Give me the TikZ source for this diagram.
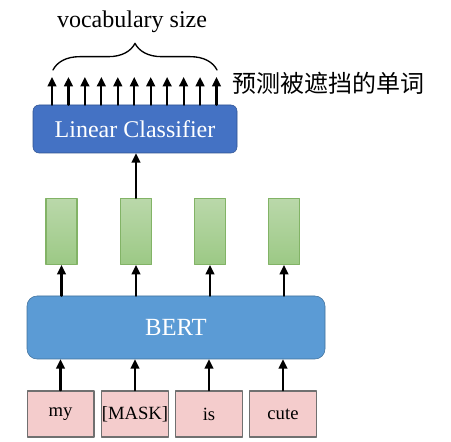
\documentclass[tikz,border=0pt]{standalone}
\usepackage{fontspec}
\setmainfont{Liberation Serif}
\newfontfamily\tnr{Liberation Serif}
\newfontfamily\cjk{Noto Sans CJK SC}
\usetikzlibrary{arrows.meta,decorations.pathreplacing}
\definecolor{clsblue}{HTML}{4472C4}
\definecolor{clsedge}{HTML}{2F528F}
\definecolor{bertblue}{HTML}{5B9BD5}
\definecolor{bertedge}{HTML}{41719C}
\definecolor{vectop}{HTML}{BAD8AA}
\definecolor{vecbot}{HTML}{9CC985}
\definecolor{vecedge}{HTML}{82B366}
\definecolor{tokfill}{HTML}{F4CCCC}
\definecolor{tokedge}{HTML}{707070}
\tikzset{
    vecbox/.style={draw=vecedge, line width=0.8pt, top color=vectop, bottom color=vecbot,
        minimum width=23.25pt, minimum height=49.5pt, inner sep=0pt},
    tokbox/.style={draw=tokedge, fill=tokfill, line width=1pt, minimum width=50pt,
        minimum height=34.5pt, inner sep=0pt, font=\tnr\fontsize{14}{16}\selectfont},
    upar/.style={-{Triangle[length=7pt,width=6.5pt]}, line width=1.6pt}
}
\begin{document}
\begin{tikzpicture}[line cap=round, line join=round, x=0.75pt, y=-0.75pt]
                \useasboundingbox (0,0) rectangle (451,442);
                \node[draw=clsedge, fill=clsblue, rounded corners=4.5pt, minimum width=153pt, minimum height=36pt,
                    text=white, font=\tnr\fontsize{18}{20}\selectfont] (cls) at (135,129) {Linear Classifier};
                \node[draw=bertedge, fill=bertblue, rounded corners=7.5pt, minimum width=223.5pt, minimum height=47.25pt,
                    text=white, font=\tnr\fontsize{18.5}{20}\selectfont] (bert) at (176,327.5) {BERT};
                \foreach \name/\x/\word in {my/60.5/my, mask/135/{[MASK]}, is/209/is, cute/283/cute} {
                    \node[tokbox] (tok-\name) at (\x,414) {\word};
                    \node[vecbox] (vec-\name) at (\x+1,231.5) {};
                    \draw[upar] (tok-\name) -- (tok-\name |- bert.south);
                    \draw[upar] (vec-\name |- bert.north) -- (vec-\name);
                }
                \draw[upar] (vec-mask) -- (vec-mask |- cls.south);
                \foreach \i in {0,...,10} {
                    \coordinate (out\i) at ({52+16.45*\i},77);
                    \draw[upar] (out\i |- cls.north) -- (out\i);
                }
                \draw[line width=1pt, decorate, decoration={brace, amplitude=20pt}] (53,70) -- (217,70) coordinate[midway] (mid);
                \node[font=\tnr\fontsize{18}{20}\selectfont] (vocab) at (132,22) {vocabulary size};
                \node[font=\cjk\fontsize{18}{20}\selectfont] (pred) at (329,83) {预测被遮挡的单词};
            \end{tikzpicture}
\end{document}
